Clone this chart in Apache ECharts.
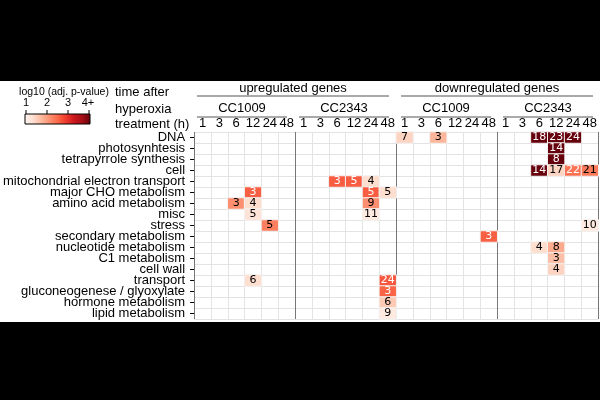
<!DOCTYPE html>
<html>
<head>
<meta charset="utf-8">
<script src="https://cdn.jsdelivr.net/npm/echarts@6/dist/echarts.min.js"></script>
<style>
html, body { margin: 0; padding: 0; background: #000; }
#main { width: 600px; height: 400px; }
</style>
</head>
<body>
<div id="main"></div>
<script>
const rowNames = [
    'DNA', 'photosynhtesis', 'tetrapyrrole synthesis', 'cell',
    'mitochondrial electron transport', 'major CHO metabolism',
    'amino acid metabolism', 'misc', 'stress', 'secondary metabolism',
    'nucleotide metabolism', 'C1 metabolism', 'cell wall', 'transport',
    'gluconeogenese / glyoxylate', 'hormone metabolism', 'lipid metabolism'
];
const hours = ['1', '3', '6', '12', '24', '48'];
const strains = ['CC1009', 'CC2343'];
const regulations = ['upregulated genes', 'downregulated genes'];
const legendTicks = ['1', '2', '3', '4+'];
const reds = ['#fff5f0', '#fee0d2', '#fcbba1', '#fc9272', '#fb6a4a', '#ef3b2c', '#cb181d', '#a50f15', '#67000d'];

// [row, column, gene count, log10 adj. p-value]
// columns 0-5 up CC1009, 6-11 up CC2343, 12-17 down CC1009, 18-23 down CC2343
const cells = [
    [0, 12, 7, 1.5], [0, 14, 3, 1.8], [0, 20, 18, 4], [0, 21, 23, 4], [0, 22, 24, 4],
    [1, 21, 14, 4],
    [2, 21, 8, 4],
    [3, 20, 14, 4], [3, 21, 17, 1.5], [3, 22, 22, 2.42], [3, 23, 21, 2.35],
    [4, 8, 3, 2.6], [4, 9, 5, 2.6], [4, 10, 4, 1.4],
    [5, 3, 3, 2.58], [5, 10, 5, 2.6], [5, 11, 5, 1.4],
    [6, 2, 3, 2.15], [6, 3, 4, 1.4], [6, 10, 9, 2.15],
    [7, 3, 5, 1.3], [7, 10, 11, 1.2],
    [8, 4, 5, 2.3], [8, 23, 10, 1.2],
    [9, 17, 3, 2.58],
    [10, 20, 4, 1.4], [10, 21, 8, 1.9],
    [11, 21, 3, 1.7],
    [12, 21, 4, 1.5],
    [13, 3, 6, 1.4], [13, 11, 24, 2.65],
    [14, 11, 3, 2.55],
    [15, 11, 6, 1.6],
    [16, 11, 9, 1.2]
];

const gridLeft = 191, gridTop = 132, colW = 17, rowH = 11;
const nCols = regulations.length * strains.length * hours.length;
const font = 'Liberation Sans';

let myChart = echarts.init(document.getElementById('main'));

let columns = [];
for (let i = 0; i < nCols; i++) columns.push(i);

// header texts and lines
let graphics = [];
regulations.forEach((reg, r) => {
    let x0 = gridLeft + r * 12 * colW, x1 = x0 + 12 * colW;
    graphics.push({ type: 'text', x: (x0 + x1) / 2, y: 88,
        style: { text: reg, font: '13px ' + font, fill: '#000', align: 'center', verticalAlign: 'middle' } });
    graphics.push({ type: 'line', shape: { x1: x0 + 6, y1: 96, x2: x1 - 6, y2: 96 },
        style: { stroke: '#555', lineWidth: 1 } });
    strains.forEach((st, s) => {
        let a = x0 + s * 6 * colW, b = a + 6 * colW;
        graphics.push({ type: 'text', x: (a + b) / 2, y: 108,
            style: { text: st, font: '13px ' + font, fill: '#000', align: 'center', verticalAlign: 'middle' } });
        graphics.push({ type: 'line', shape: { x1: a + 6, y1: 117, x2: b - 6, y2: 117 },
            style: { stroke: '#555', lineWidth: 1 } });
    });
});
['time after', 'hyperoxia', 'treatment (h)'].forEach((t, i) => {
    graphics.push({ type: 'text', x: 115, y: [92, 109, 124][i],
        style: { text: t, font: '13px ' + font, fill: '#000', align: 'left', verticalAlign: 'middle' } });
});
// colour legend
graphics.push({ type: 'text', x: 64, y: 92,
    style: { text: 'log10 (adj. p-value)', font: '10.5px ' + font, fill: '#000', align: 'center', verticalAlign: 'middle' } });
graphics.push({ type: 'rect', shape: { x: 25, y: 114, width: 65, height: 10 },
    style: {
        fill: new echarts.graphic.LinearGradient(0, 0, 1, 0,
            reds.map((c, i) => ({ offset: i / (reds.length - 1), color: c }))),
        stroke: '#000', lineWidth: 1
    } });
legendTicks.forEach((t, i) => {
    let x = 26 + i * 21;
    graphics.push({ type: 'line', shape: { x1: x, y1: 110, x2: x, y2: 114 }, style: { stroke: '#000', lineWidth: 1 } });
    graphics.push({ type: 'text', x: i === 3 ? x - 1 : x, y: 103,
        style: { text: t, font: '11px ' + font, fill: '#000', align: 'center', verticalAlign: 'middle' } });
});
// letterbox bands
graphics.push({ type: 'rect', z: 100, shape: { x: 0, y: 0, width: 600, height: 81 }, style: { fill: '#000' } });
graphics.push({ type: 'rect', z: 100, shape: { x: 0, y: 322, width: 600, height: 78 }, style: { fill: '#000' } });

let splitColors = ['#777'];
for (let i = 1; i < hours.length; i++) splitColors.push('#e3e3e3');

myChart.setOption({
    backgroundColor: '#fff',
    animation: false,
    grid: { left: gridLeft, top: gridTop, width: nCols * colW, height: rowNames.length * rowH },
    xAxis: {
        type: 'category',
        position: 'top',
        data: columns,
        axisLine: { show: false },
        axisTick: { show: false },
        axisLabel: {
            interval: 0, margin: 2, fontSize: 13, fontFamily: font, color: '#000',
            formatter: (v, i) => hours[i % hours.length]
        },
        splitLine: { show: true, interval: 0, lineStyle: { color: splitColors, width: 1 } }
    },
    yAxis: {
        type: 'category',
        inverse: true,
        data: rowNames,
        axisLine: { show: false },
        axisTick: { show: true, alignWithLabel: true, length: 4, lineStyle: { color: '#000' } },
        axisLabel: { interval: 0, margin: 9, fontSize: 13, fontFamily: font, color: '#000' },
        splitLine: { show: true, interval: 0, lineStyle: { color: '#e3e3e3', width: 1 } }
    },
    visualMap: {
        show: false,
        type: 'continuous',
        min: 1,
        max: 4,
        dimension: 2,
        inRange: { color: reds }
    },
    graphic: graphics,
    series: [{
        type: 'heatmap',
        data: cells.map(c => ({
            value: [c[1], c[0], c[3], c[2]],
            label: { color: c[3] >= 2.4 ? '#fff' : '#000' }
        })),
        label: {
            show: true,
            fontSize: 11,
            fontFamily: 'DejaVu Sans',
            formatter: p => p.value[3]
        },
        itemStyle: { borderColor: '#f2f2f2', borderWidth: 1 }
    }]
});
</script>
</body>
</html>
